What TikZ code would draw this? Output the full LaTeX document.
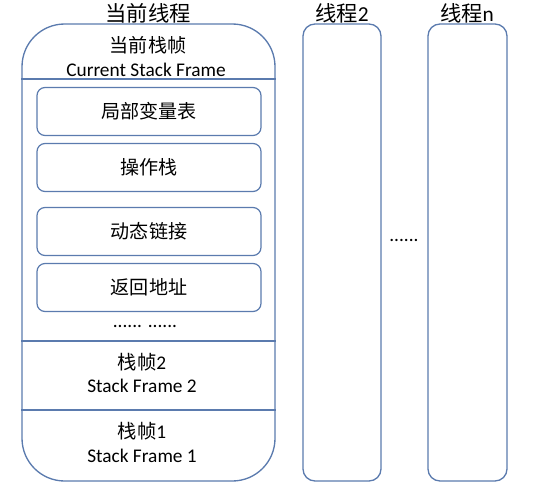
\documentclass[tikz,border=0pt]{standalone}
\usepackage{fontspec}
\setmainfont{Carlito}
\newfontfamily\cjk{Noto Sans CJK SC}
\usepackage{xcolor}
\definecolor{framec}{HTML}{5B7BAE}
\usepackage{tikz}

\begin{document}
\begin{tikzpicture}[x=0.75pt,y=-0.75pt,
    thread/.style={draw=framec,line width=1pt,minimum height=342.75pt,inner sep=0pt},
    slot/.style={draw=framec,line width=0.9pt,rounded corners=6pt,minimum width=168pt,minimum height=36pt,inner sep=0pt,font=\cjk\fontsize{14.3}{16}\selectfont},
    title/.style={font=\cjk\fontsize{16}{18}\selectfont,inner sep=0pt},
    lbl/.style={font=\fontsize{14.5}{16}\selectfont,inner sep=0pt}]
  \useasboundingbox (0,0) rectangle (538,493);
  \node[thread,minimum width=189.75pt,rounded corners=32pt] (cur) at (148.5,252.5) {};
  \node[thread,minimum width=58.5pt,rounded corners=9pt] (thr2) at (342,252.5) {};
  \node[thread,minimum width=59.25pt,rounded corners=9pt] (thrn) at (467.5,252.5) {};
  \node[title] (curtitle) at (148,13) {当前线程};
  \node[title] (thr2title) at (342,13) {线程\fontspec{Carlito}2};
  \node[title] (thrntitle) at (467,13) {线程\fontspec{Carlito}n};
  \node[lbl,font=\cjk\fontsize{14.3}{16}\selectfont] (curframe) at (148,45) {当前栈帧};
  \node[lbl] (curframeen) at (146,70) {Current Stack Frame};
  \draw[framec,line width=0.9pt] (cur.west |- 0,79) -- (cur.east |- 0,79);
  \node[slot] (locals) at (149,111.5) {局部变量表};
  \node[slot] (opstack) at (149,167.5) {操作栈};
  \node[slot] (dynlink) at (149,231.5) {动态链接};
  \node[slot] (retaddr) at (149,287.5) {返回地址};
  \node[lbl] (moreslots) at (145,326) {...... ......};
  \draw[framec,line width=0.9pt] (cur.west |- 0,341) -- (cur.east |- 0,341);
  \node[lbl] (frame2) at (142,362) {{\cjk 栈帧}2};
  \node[lbl] (frame2en) at (142,386) {Stack Frame 2};
  \draw[framec,line width=0.9pt] (cur.west |- 0,410) -- (cur.east |- 0,410);
  \node[lbl] (frame1) at (142,431) {{\cjk 栈帧}1};
  \node[lbl] (frame1en) at (142,456) {Stack Frame 1};
  \node[lbl] (morethr) at (404,240) {......};
\end{tikzpicture}
\end{document}
